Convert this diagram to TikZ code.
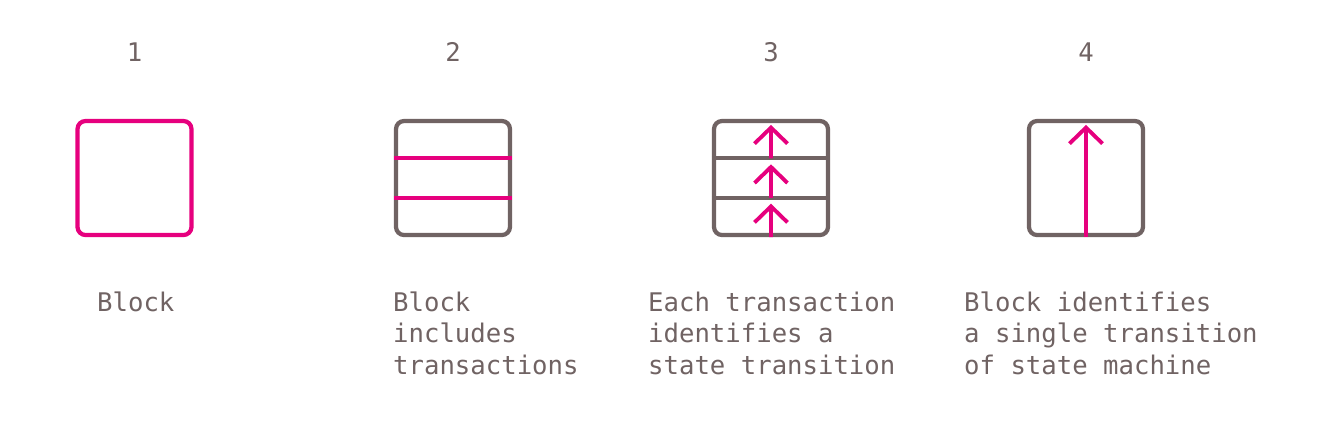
\documentclass[tikz,border=0pt]{standalone}
\usepackage{fontspec}
\setmonofont{DejaVu Sans Mono}
\usepackage{tikz}
\usetikzlibrary{calc,arrows.meta}
\definecolor{blockgray}{RGB}{112,99,99}
\definecolor{blockpink}{RGB}{230,0,126}
\newcommand{\thickness}{1.2pt}
\newcommand{\side}{1.14cm}

\begin{document}
\begin{tikzpicture}[
  block/.style={draw=blockgray, line width=\thickness, rounded corners=0.08cm, minimum size=\side, inner sep=0pt},
  number/.style={text=blockgray, inner sep=0pt, font=\ttfamily\fontsize{7.3}{9}\selectfont},
  caption/.style={text=blockgray, anchor=north west, align=left, inner sep=0pt, font=\ttfamily\fontsize{7.3}{8.96}\selectfont},
  divider/.style={blockgray, line width=\thickness},
  tx/.style={blockpink, line width=\thickness},
  up/.style={blockpink, line width=1.1pt, -{Straight Barb[length=0.16cm, width=0.33cm]}}
]
\useasboundingbox (0,0) rectangle (13.35,-4.32);
% numbers
\node[number] (n1) at (1.345, -0.52) {1};
\node[number] (n2) at (4.53, -0.52) {2};
\node[number] (n3) at (7.71, -0.52) {3};
\node[number] (n4) at (10.86, -0.52) {4};
% blocks
\node[block, draw=blockpink] (b1) at (1.345, -1.78) {};
\node[block] (b2) at (4.53, -1.78) {};
\node[block] (b3) at (7.71, -1.78) {};
\node[block] (b4) at (10.86, -1.78) {};
% rows
\coordinate (r1) at ($(b2.north)!1/3!(b2.south)$);
\coordinate (r2) at ($(b2.north)!2/3!(b2.south)$);
\draw[tx] (b2.west |- r1) -- (b2.east |- r1);
\draw[tx] (b2.west |- r2) -- (b2.east |- r2);
\coordinate (s1) at ($(b3.north)!1/3!(b3.south)$);
\coordinate (s2) at ($(b3.north)!2/3!(b3.south)$);
\draw[divider] (b3.west |- s1) -- (b3.east |- s1);
\draw[divider] (b3.west |- s2) -- (b3.east |- s2);
% transitions
\draw[up] (s1) -- ($(b3.north)+(0,-0.06)$);
\draw[up] (s2) -- ($(s1)+(0,-0.06)$);
\draw[up] (b3.south) -- ($(s2)+(0,-0.06)$);
\draw[up] (b4.south) -- ($(b4.north)+(0,-0.06)$);
% captions
\node[caption] (c1) at (0.965, -2.91) {Block};
\node[caption] (c2) at (3.925, -2.91) {Block\\includes\\transactions};
\node[caption] (c3) at (6.475, -2.91) {Each transaction\\identifies a\\state transition};
\node[caption] (c4) at (9.635, -2.91) {Block identifies\\a single transition\\of state machine};
\end{tikzpicture}
\end{document}
